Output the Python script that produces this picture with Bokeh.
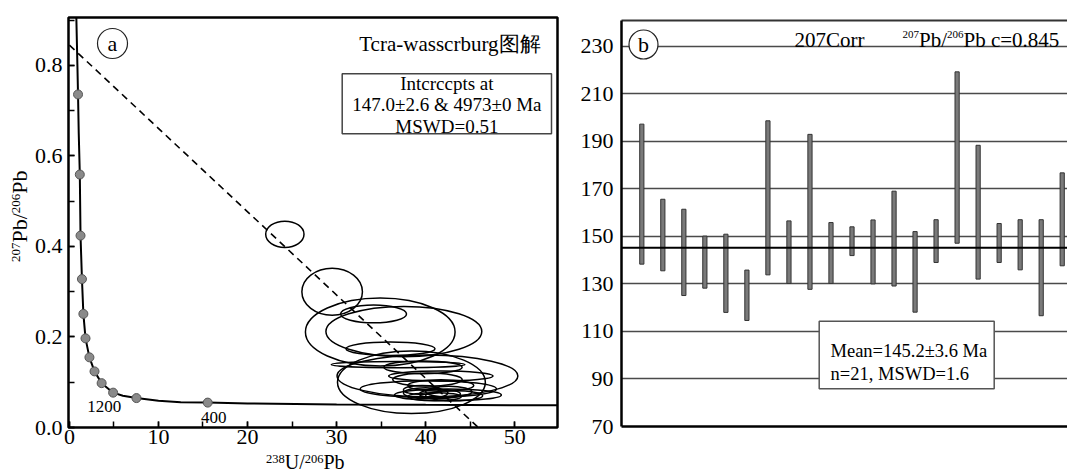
from bokeh.plotting import figure
from bokeh.models import (Range1d, SingleIntervalTicker, FixedTicker, PrintfTickFormatter,
                          Label, BoxAnnotation, Span, LinearAxis, Div)
from bokeh.layouts import row, column
from bokeh.embed import file_html
from bokeh.resources import INLINE

SERIF = "Liberation Serif"

# ---------------- data: (a) Tera-Wasserburg diagram ----------------
conc_x = [0.78, 0.90, 0.97, 1.05, 1.17, 1.25, 1.41, 1.57, 1.81, 2.25, 2.82, 3.62, 4.91,
          6.0, 7.53, 10.0, 12.5, 15.53, 20.0, 30.0, 40.0, 55.0]
conc_y = [0.906, 0.80, 0.736, 0.65, 0.559, 0.424, 0.328, 0.251, 0.197, 0.155, 0.124, 0.098,
          0.077, 0.070, 0.065, 0.059, 0.056, 0.055, 0.053, 0.051, 0.050, 0.049]
dot_x = [0.97, 1.17, 1.25, 1.41, 1.57, 1.81, 2.25, 2.82, 3.62, 4.91, 7.53, 15.53]
dot_y = [0.736, 0.559, 0.424, 0.328, 0.251, 0.197, 0.155, 0.124, 0.098, 0.077, 0.065, 0.055]
age_labels = ["1200", "400"]
age_label_x = [3.9, 16.2]
age_label_y = [0.046, 0.022]
disc_x = [0.0, 45.9]
disc_y = [0.845, 0.0]
ell_x = [24.19, 29.5, 34.15, 34.9, 37.55, 36.05, 38.4, 40.2, 36.9, 39.7, 41.7,
         40.2, 41.7, 40.3, 42.5, 40.0, 41.6, 42.6, 39.6, 43.2, 41.0]
ell_y = [0.427, 0.300, 0.251, 0.211, 0.212, 0.174, 0.100, 0.114, 0.139, 0.133, 0.114,
         0.106, 0.093, 0.085, 0.072, 0.076, 0.074, 0.079, 0.083, 0.070, 0.068]
ell_w = [4.3, 6.8, 7.4, 16.8, 17.5, 10.0, 16.6, 20.3, 15.0, 8.8, 11.7,
         7.8, 7.4, 15.3, 12.0, 5.0, 4.6, 5.2, 4.2, 6.4, 6.0]
ell_h = [0.058, 0.104, 0.039, 0.150, 0.111, 0.030, 0.138, 0.092, 0.014, 0.028, 0.022,
         0.029, 0.025, 0.037, 0.026, 0.024, 0.020, 0.024, 0.020, 0.022, 0.018]
x_ticks_step = 10
y_ticks_step = 0.2

# ---------------- data: (b) weighted mean ages ----------------
spot = list(range(1, 22))
age_hi = [197.2, 165.6, 161.4, 150.1, 150.9, 135.8, 198.6, 156.5, 192.9, 155.8, 154.0,
          156.9, 169.0, 152.0, 157.0, 219.2, 188.3, 155.4, 157.0, 157.0, 176.7]
age_lo = [138.3, 135.5, 125.1, 128.2, 118.0, 114.6, 133.8, 130.2, 127.7, 130.2, 141.9,
          130.0, 129.1, 118.1, 139.0, 147.1, 132.0, 139.0, 135.9, 116.6, 137.6]
mean_age = 145.2
age_ticks = [70, 90, 110, 130, 150, 170, 190, 210, 230]

# ---------------- geometry (page has no margin) ----------------
PAGE_H = 471
YT_W = 30                      # strip holding the rotated y title of (a)
L_W, L_H = 542, 454
L_BL, L_BR, L_BT, L_BB = 38, 15, 17, 27
XT_H = PAGE_H - L_H            # strip holding the x title of (a)
L_X0, L_X1, L_Y0, L_Y1 = -0.1, 54.8, 0.0, 0.906
L_FL, L_FW, L_FB, L_FH = 68, 489, 427, 410

R_W, R_H = 495, 471
R_BL, R_BR, R_BT, R_BB = 49, 0, 20, 45
R_X0 = 0.034
R_X1 = R_X0 + 446 / 21.02
R_Y0, R_Y1 = 70, 240.8
R_FL, R_FW, R_FB, R_FH = 621, 446, 426, 406

def ax_x(sx): return L_X0 + (sx - L_FL) * (L_X1 - L_X0) / L_FW
def ax_y(sy): return L_Y0 + (L_FB - sy) * (L_Y1 - L_Y0) / L_FH
def bx_x(sx): return R_X0 + (sx - R_FL) * (R_X1 - R_X0) / R_FW
def bx_y(sy): return R_Y0 + (R_FB - sy) * (R_Y1 - R_Y0) / R_FH

CW = {"0": .5, "1": .5, "2": .5, "3": .5, "4": .5, "5": .5, "6": .5, "7": .5, "8": .5, "9": .5,
      "U": .722, "/": .278, "P": .556, "b": .5, " ": .25, "c": .444, "=": .564, ".": .25,
      "C": .667, "o": .5, "r": .333}
def tw(s, size): return sum(CW.get(ch, .5) for ch in s) * size

def lab(p, x, y, text, size, align="left", baseline="alphabetic", angle=0):
    p.add_layout(Label(x=x, y=y, text=text, text_font=SERIF, text_font_size=f"{size}px",
                       text_align=align, text_baseline=baseline, angle=angle, text_color="black"))

def pieces_h(p, fx, fy, sx, base, parts):
    for text, size, rise in parts:
        lab(p, fx(sx), fy(base - rise), text, size)
        sx += tw(text, size)

def sup(t, size, rise):
    return (f'<sup style="font-size:{size}px;vertical-align:{rise}px;line-height:0;">{t}</sup>')

def title_div(w, h, left, top, size, inner, rotate):
    tr = "transform-origin:0 0;transform:rotate(-90deg);" if rotate else ""
    html = (f'<div style="position:relative;width:{w}px;height:{h}px;overflow:visible;">'
            f'<div style="position:absolute;left:{left}px;top:{top}px;{tr}white-space:nowrap;'
            f"font-family:'{SERIF}';font-size:{size}px;line-height:{size}px;color:#000;\">"
            f'{inner}</div></div>')
    return Div(text=html, width=w, height=h, margin=0, styles={"overflow": "visible"})

# ================= panel (a) =================
pa = figure(width=L_W, height=L_H, x_range=Range1d(L_X0, L_X1), y_range=Range1d(L_Y0, L_Y1),
            output_backend="svg", toolbar_location=None,
            min_border_left=L_BL, min_border_right=L_BR, min_border_top=L_BT, min_border_bottom=L_BB)
pa.grid.visible = False
pa.outline_line_color = "black"
pa.outline_line_width = 2.5
pa.outline_line_alpha = 1
for ax in (pa.xaxis[0], pa.yaxis[0]):
    ax.axis_line_color = None
    ax.major_tick_in = 6
    ax.major_tick_out = 0
    ax.minor_tick_in = 6
    ax.minor_tick_out = 0
    ax.major_tick_line_color = "black"
    ax.minor_tick_line_color = "black"
    ax.major_tick_line_width = 1.5
    ax.minor_tick_line_width = 1.5
    ax.major_label_text_font = SERIF
    ax.major_label_text_font_size = "22px"
    ax.major_label_text_color = "black"
pa.xaxis.ticker = SingleIntervalTicker(interval=x_ticks_step, num_minor_ticks=2)
pa.yaxis.ticker = SingleIntervalTicker(interval=y_ticks_step, num_minor_ticks=2)
pa.yaxis.formatter = PrintfTickFormatter(format="%.1f")
pa.xaxis.major_label_standoff = 2
pa.yaxis.major_label_standoff = 6

pa.ellipse(x=ell_x, y=ell_y, width=ell_w, height=ell_h, fill_color=None,
           line_color="black", line_width=1.5)
pa.line(disc_x, disc_y, line_color="black", line_width=1.6, line_dash="7 5")
pa.line(conc_x, conc_y, line_color="black", line_width=2)
pa.scatter(dot_x, dot_y, size=9, fill_color="#8a8a8a", line_color="#555555", line_width=1)
for t, x, y in zip(age_labels, age_label_x, age_label_y):
    lab(pa, x, y, t, 17, align="center", baseline="middle")

pa.scatter([ax_x(112)], [ax_y(43)], size=30, fill_color="white", line_color="#222222", line_width=1.2)
lab(pa, ax_x(112), ax_y(43), "a", 22, align="center", baseline="middle")
lab(pa, ax_x(540), ax_y(43), "Tcra-wasscrburg图解", 21, align="right", baseline="middle")

pa.add_layout(BoxAnnotation(left=ax_x(341.7), right=ax_x(551), top=ax_y(73.3), bottom=ax_y(133.3),
                            fill_color="white", fill_alpha=1, line_color="#444444", line_width=1.5,
                            line_alpha=1))
for t, sy in zip(["Intcrccpts at", "147.0±2.6 & 4973±0 Ma", "MSWD=0.51"], [83.3, 104.3, 125.7]):
    lab(pa, ax_x(446.4), ax_y(sy), t, 19, align="center", baseline="middle")

# axis titles of (a) as real HTML text with superscripts
yt = title_div(YT_W, PAGE_H, 8.6, 262, 22,
               sup("207", 13, 7) + "Pb/" + sup("206", 13, 7) + "Pb", True)
xt = title_div(L_W, XT_H, 266 - YT_W, -2.5, 20,
               sup("238", 12.5, 6) + "U/" + sup("206", 12.5, 6) + "Pb", False)

# ================= panel (b) =================
pb = figure(width=R_W, height=R_H, x_range=Range1d(R_X0, R_X1), y_range=Range1d(R_Y0, R_Y1),
            output_backend="svg", toolbar_location=None,
            min_border_left=R_BL, min_border_right=R_BR, min_border_top=R_BT, min_border_bottom=R_BB)
pb.outline_line_color = None
pb.xgrid.visible = False
tick = FixedTicker(ticks=age_ticks)
pb.yaxis.ticker = tick
pb.ygrid.ticker = tick
pb.ygrid.grid_line_color = "#4a4a4a"
pb.ygrid.grid_line_width = 1.3
pb.ygrid.grid_line_alpha = 1
ya = pb.yaxis[0]
ya.major_tick_in = 0
ya.major_tick_out = 0
ya.minor_tick_line_color = None
ya.axis_line_color = "black"
ya.axis_line_width = 2.5
ya.major_label_text_font = SERIF
ya.major_label_text_font_size = "22px"
ya.major_label_text_color = "black"
ya.major_label_standoff = 8
xa = pb.xaxis[0]
xa.ticker = FixedTicker(ticks=[])
xa.major_tick_line_color = None
xa.minor_tick_line_color = None
xa.axis_line_color = "black"
xa.axis_line_width = 2.5
top_ax = LinearAxis(ticker=FixedTicker(ticks=[]), major_tick_line_color=None,
                    minor_tick_line_color=None, axis_line_color="#333333", axis_line_width=2)
pb.add_layout(top_ax, "above")

pb.vbar(x=spot, bottom=age_lo, top=age_hi, width=0.2, fill_color="#7a7a7a",
        line_color="#333333", line_width=1)
pb.add_layout(Span(location=mean_age, dimension="width", line_color="black", line_width=1.8))

pb.add_layout(BoxAnnotation(left=bx_x(818.7), right=bx_x(993.7), top=bx_y(320.7), bottom=bx_y(388.3),
                            fill_color="white", fill_alpha=1, line_color="#555555", line_width=1.5,
                            line_alpha=1))
lab(pb, bx_x(830), bx_y(350), "Mean=145.2±3.6 Ma", 18.5)
lab(pb, bx_x(830), bx_y(373), "n=21,  MSWD=1.6", 18.5)

pb.scatter([bx_x(643)], [bx_y(44)], size=29, fill_color="white", line_color="#222222", line_width=1.2)
lab(pb, bx_x(643), bx_y(44), "b", 22, align="center", baseline="middle")
lab(pb, bx_x(829), bx_y(39.5), "207Corr", 21, align="center")
pieces_h(pb, bx_x, bx_y, 902, 39.5, [("207", 11, 6), ("Pb/", 21, 0), ("206", 11, 6), ("Pb c=0.845", 21, 0)])

layout = row(yt, column(pa, xt), pb)
with open("out.html", "w", encoding="utf-8") as f:
    f.write(file_html(layout, INLINE))
